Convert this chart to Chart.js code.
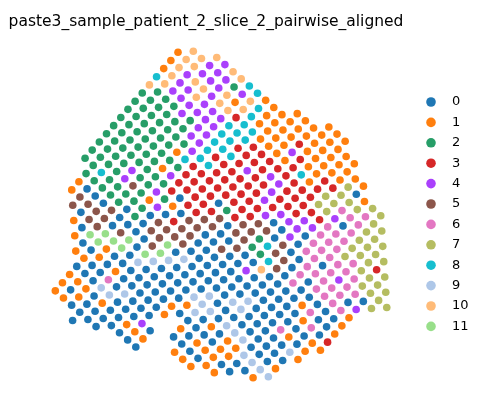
<!DOCTYPE html>
<html>
<head>
<meta charset="utf-8">
<script src="https://cdn.jsdelivr.net/npm/chart.js@4"></script>
<style>
  html, body { margin: 0; background: #fff; }
  #wrap { width: 489px; height: 411px; }
</style>
</head>
<body>
<div id="wrap"><canvas id="spatial"></canvas></div>
<script>
// cluster labels / colours (scanpy default palette)
const clusters = ['0', '1', '2', '3', '4', '5', '6', '7', '8', '9', '10', '11'];
const colors = ['#1f77b4', '#ff7f0e', '#279e68', '#d62728', '#aa40fc', '#8c564b',
                '#e377c2', '#b5bd61', '#17becf', '#aec7e8', '#ffbb78', '#98df8a'];

// spots, hex grid: row, first column (half steps), labels (A=10, B=11)
const rowIdx = [];
const rowStart = [];
const rowLabels = [];
function row(r, u0, s) { rowIdx.push(r); rowStart.push(u0); rowLabels.push(s); }
row(0, 0, '1A');
row(1, -1, '1AAA');
row(2, -2, '1AA44');
row(3, -3, '8A444A');
row(4, -4, 'AA4A44A');
row(5, -5, '2244A428');
row(6, -6, '2224A4A48');
row(7, -7, '222244A1A1');
row(8, -8, '2222444AA81');
row(9, -9, '2222224438111');
row(10, -10, '22222244881111');
row(11, -11, '2222224488811111');
row(12, -12, '22222224888111111');
row(13, -13, '222222148833113111');
row(14, -12, '22222288383314111');
row(15, -13, '282421238333313111');
row(16, -14, '1224224333343331111');
row(17, -15, '1022522333333438111');
row(18, -14, '5022243333333431311');
row(19, -15, '55022120333334333371');
row(20, -14, '0550241330334333770');
row(21, -15, '15502000332333337771');
row(22, -14, '05000535553344337677');
row(23, -15, '1BB505555505504434667');
row(24, -14, '0BBB0555005550446067');
row(25, -15, '101B05B50005204066677');
row(26, -14, '1100BB00055285066677');
row(27, -15, '000099990000250666777');
row(28, -16, '100100000000085066777');
row(29, -17, '1106000000004A50606677');
row(30, -18, '1019000000000000666673');
row(31, -17, '1109900000000006064677');
row(32, -16, '001000009900000066677');
row(33, -15, '000000119099000066677');
row(34, -16, '000000109909000106007');
row(35, -13, '0014');
row(35, -1, '00000000606477');
row(36, -10, '010');
row(36, -2, '101900001001');
row(37, -9, '01');
row(37, -3, '000090060601');
row(38, -8, '0');
row(38, -2, '01019001001');
row(39, -3, '10111000013');
row(40, -2, '1011900911');
row(41, -1, '11009001');
row(42, 2, '10091');
row(43, 7, '19');

const tilt = 0.0654; // slice is slightly rotated after alignment
const datasets = clusters.map((c, i) => ({
  label: c, data: [], backgroundColor: colors[i], borderWidth: 0,
  pointRadius: 3.8, pointHoverRadius: 3.8
}));
rowIdx.forEach((r, k) => {
  rowLabels[k].split('').forEach((ch, j) => {
    const u = rowStart[k] + 2 * j;
    const lab = parseInt(ch, 16);
    datasets[lab].data.push({ x: u + tilt * r, y: r - tilt * u });
  });
});

const overlay = {
  id: 'overlay',
  afterDraw(chart) {
    const ctx = chart.ctx;
    ctx.save();
    ctx.fillStyle = '#000';
    ctx.font = '15.5px "DejaVu Sans"';
    ctx.textAlign = 'center';
    ctx.textBaseline = 'middle';
    ctx.fillText('paste3_sample_patient_2_slice_2_pairwise_aligned', 206, 22);
    ctx.textAlign = 'left';
    ctx.font = '13px "DejaVu Sans"';
    clusters.forEach((c, i) => {
      const y = 102 + i * 20.4;
      ctx.fillStyle = colors[i];
      ctx.beginPath();
      ctx.arc(431, y, 4.8, 0, Math.PI * 2);
      ctx.fill();
      ctx.fillStyle = '#000';
      ctx.fillText(c, 452, y);
    });
    ctx.restore();
  }
};

new Chart(document.getElementById('spatial'), {
  type: 'scatter',
  data: { datasets },
  options: {
    responsive: true, maintainAspectRatio: false, animation: false,
    layout: { padding: { left: 40, right: 89, top: 40, bottom: 21 } },
    scales: {
      x: { display: false, min: -18.04, max: 29.02 },
      y: { display: false, reverse: true, min: -1.61, max: 44.14 }
    },
    plugins: { legend: { display: false }, tooltip: { enabled: false } }
  },
  plugins: [overlay]
});
</script>
</body>
</html>
